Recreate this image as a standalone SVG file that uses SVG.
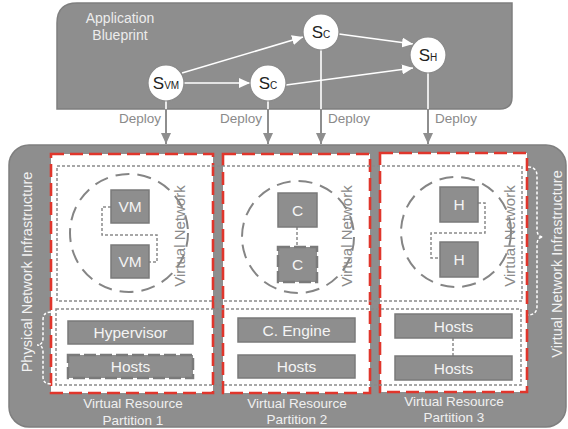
<svg xmlns="http://www.w3.org/2000/svg" width="568" height="429" viewBox="0 0 568 429">
<defs>
<style>
.bg{fill:#8e8e8e;stroke:#7f7f7f;stroke-width:1.5}
.part{fill:#fff;stroke:#e0362c;stroke-width:2.6;stroke-dasharray:13 6}
.dot{fill:none;stroke:#8a8a8a;stroke-width:1.5;stroke-dasharray:3 2}
.wdot{fill:none;stroke:#fff;stroke-width:1.5;stroke-dasharray:3 2}
.ring{fill:none;stroke:#858585;stroke-width:2;stroke-dasharray:14 8}
.box{fill:#8e8e8e;stroke:#7a7a7a;stroke-width:1.5}
.dbox{fill:#8e8e8e;stroke:#7a7a7a;stroke-width:2.5;stroke-dasharray:12 4}
.node{fill:#fff;stroke:#8a8a8a;stroke-width:1.2}
.t{font-family:"Liberation Sans",Arial,sans-serif}
.bt{font-family:"Liberation Sans",Arial,sans-serif;fill:#f4f4f4;font-size:15.5px;text-anchor:middle}
.lt{font-family:"Liberation Sans",Arial,sans-serif;fill:#f0f0f0;font-size:13.5px;text-anchor:middle}
.vn{font-family:"Liberation Sans",Arial,sans-serif;fill:#8a8a8a;font-size:15px;text-anchor:middle}
.dep{font-family:"Liberation Sans",Arial,sans-serif;fill:#8a8a8a;font-size:13.5px}
.st{font-family:"Liberation Sans",Arial,sans-serif;fill:#222;font-size:17px;text-anchor:middle}
.wl{stroke:#fff;stroke-width:1.6;fill:none}
.gl{stroke:#8e8e8e;stroke-width:2;fill:none}
</style>
<marker id="wa" markerUnits="userSpaceOnUse" markerWidth="12" markerHeight="10" refX="11" refY="5" orient="auto"><path d="M0,0 L11,5 L0,10 Z" fill="#fff"/></marker>
<marker id="ga" markerUnits="userSpaceOnUse" markerWidth="12" markerHeight="10" refX="11" refY="5" orient="auto"><path d="M0,0 L11,5 L0,10 Z" fill="#8e8e8e"/></marker>
</defs>

<!-- top blueprint box -->
<g id="blueprint">
<path class="bg" d="M57,109 L57,23 Q57,3 77,3 L512,3 L512,97 Q512,109 500,109 Z"/>
<text class="t" x="120" y="23" fill="#ececec" font-size="14" text-anchor="middle">Application</text>
<text class="t" x="120" y="40" fill="#ececec" font-size="14" text-anchor="middle">Blueprint</text>
</g>

<!-- bottom infrastructure box -->
<g id="infrastructure">
<rect class="bg" x="9" y="145" width="557" height="282" rx="20" ry="20"/>
<text class="t" transform="translate(32,272) rotate(-90)" fill="#f2f2f2" font-size="14.5" text-anchor="middle">Physical Network Infrastructure</text>
<text class="t" transform="translate(562,264) rotate(-90)" fill="#f2f2f2" font-size="14.5" text-anchor="middle">Virtual Network Infrastructure</text>
</g>

<!-- partitions -->
<g id="partition1">
<rect class="part" x="51" y="154" width="162" height="239"/>
</g>
<g id="partition2">
<rect class="part" x="223" y="154" width="147" height="239"/>
</g>
<g id="partition3">
<rect class="part" x="380" y="153" width="147" height="239"/>
</g>

<!-- layer rectangles -->
<g id="layers">
<rect class="dot" x="57" y="166" width="465" height="135"/>
<rect class="dot" x="56" y="309" width="465" height="76"/>
</g>

<!-- braces -->
<g id="braces">
<path class="wdot" d="M51,312 Q43,312 43,320 L43,338 Q43,345 37,345 Q43,345 43,352 L43,377 Q43,384 51,384"/>
<path class="wdot" d="M528,167 Q537,167 537,176 L537,229 Q537,237 543,237 Q537,237 537,245 L537,306 Q537,315 528,315"/>
</g>

<!-- virtual networks -->
<g id="vnet1">
<circle class="ring" cx="129" cy="233" r="59"/>
<text class="vn" transform="translate(185,236) rotate(-90)">Virtual Network</text>
</g>
<g id="vnet2">
<circle class="ring" cx="298" cy="237" r="56"/>
<text class="vn" transform="translate(352,236) rotate(-90)">Virtual Network</text>
</g>
<g id="vnet3">
<circle class="ring" cx="456" cy="232" r="55"/>
<text class="vn" transform="translate(515,236) rotate(-90)">Virtual Network</text>
</g>

<!-- inner connectors -->
<g id="inner-connectors">
<path class="dot" d="M111,207 L102,207 L102,235 L157,235 L157,262 L149,262"/>
<path class="dot" d="M297,227 L297,247"/>
<path class="dot" d="M478,203 L485,203 L485,233 L431,233 L431,258 L440,258"/>
<path class="dot" d="M453,338 L453,356"/>
</g>

<!-- partition 1 nodes -->
<g id="vm1"><rect class="box" x="111" y="190" width="38" height="33"/><text class="bt" x="130" y="212">VM</text></g>
<g id="vm2"><rect class="box" x="111" y="245" width="38" height="33"/><text class="bt" x="130" y="267">VM</text></g>
<g id="hypervisor"><rect class="box" x="68" y="321" width="125" height="23"/><text class="bt" x="130.5" y="338">Hypervisor</text></g>
<g id="hosts1"><rect class="dbox" x="68" y="355" width="125" height="23"/><text class="bt" x="130.5" y="372">Hosts</text></g>

<!-- partition 2 nodes -->
<g id="c1"><rect class="box" x="278" y="193" width="39" height="34"/><text class="bt" x="297.5" y="216">C</text></g>
<g id="c2"><rect class="dbox" x="278" y="247" width="39" height="35"/><text class="bt" x="297.5" y="270">C</text></g>
<g id="cengine"><rect class="box" x="238" y="318" width="117" height="24"/><text class="bt" x="296.5" y="336">C. Engine</text></g>
<g id="hosts2"><rect class="box" x="238" y="355" width="117" height="23"/><text class="bt" x="296.5" y="372">Hosts</text></g>

<!-- partition 3 nodes -->
<g id="h1"><rect class="box" x="440" y="187" width="38" height="35"/><text class="bt" x="459" y="210">H</text></g>
<g id="h2"><rect class="box" x="440" y="242" width="38" height="35"/><text class="bt" x="459" y="265">H</text></g>
<g id="hosts3a"><rect class="box" x="395" y="314" width="117" height="24"/><text class="bt" x="453.5" y="332">Hosts</text></g>
<g id="hosts3b"><rect class="box" x="395" y="356" width="117" height="24"/><text class="bt" x="453.5" y="374">Hosts</text></g>

<!-- labels -->
<g id="labels">
<text class="lt" x="133" y="408">Virtual Resource</text>
<text class="lt" x="133" y="425">Partition 1</text>
<text class="lt" x="297" y="408">Virtual Resource</text>
<text class="lt" x="297" y="424">Partition 2</text>
<text class="lt" x="454" y="406">Virtual Resource</text>
<text class="lt" x="454" y="422">Partition 3</text>
</g>

<!-- connectors -->
<g id="connectors">
<line class="wl" x1="182" y1="73" x2="303" y2="37" marker-end="url(#wa)"/>
<line class="wl" x1="184" y1="83" x2="250" y2="83" marker-end="url(#wa)"/>
<line class="wl" x1="286" y1="85" x2="413" y2="68" marker-end="url(#wa)"/>
<line class="wl" x1="339" y1="34" x2="413" y2="44" marker-end="url(#wa)"/>
<line class="wl" x1="166" y1="101" x2="166" y2="109"/>
<line class="wl" x1="268" y1="101" x2="268" y2="109"/>
<line class="wl" x1="321" y1="50" x2="321" y2="109"/>
<line class="wl" x1="428" y1="73" x2="428" y2="109"/>
<line class="gl" x1="166" y1="109" x2="166" y2="144" marker-end="url(#ga)"/>
<line class="gl" x1="268" y1="109" x2="268" y2="144" marker-end="url(#ga)"/>
<line class="gl" x1="321" y1="109" x2="321" y2="144" marker-end="url(#ga)"/>
<line class="gl" x1="428" y1="109" x2="428" y2="144" marker-end="url(#ga)"/>
<text class="dep" x="161" y="123" text-anchor="end">Deploy</text>
<text class="dep" x="262" y="123" text-anchor="end">Deploy</text>
<text class="dep" x="328" y="123">Deploy</text>
<text class="dep" x="435" y="123">Deploy</text>
</g>

<!-- blueprint service nodes -->
<g id="svm"><circle class="node" cx="166" cy="83" r="18"/><text class="st" x="166" y="89">S<tspan font-size="10">VM</tspan></text></g>
<g id="sc1"><circle class="node" cx="268" cy="83" r="18"/><text class="st" x="268" y="89">S<tspan font-size="10">C</tspan></text></g>
<g id="sc2"><circle class="node" cx="321" cy="32" r="18"/><text class="st" x="321" y="38">S<tspan font-size="10">C</tspan></text></g>
<g id="sh"><circle class="node" cx="428" cy="55" r="18"/><text class="st" x="428" y="61">S<tspan font-size="10">H</tspan></text></g>
</svg>
